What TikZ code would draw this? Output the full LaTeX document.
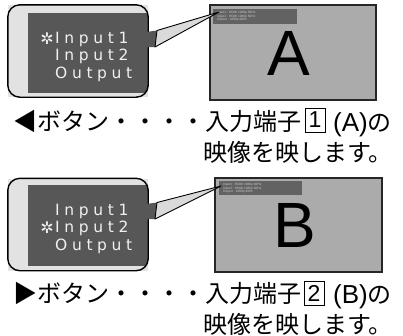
\documentclass[tikz,border=0pt]{standalone}
\usepackage{fontspec}
\setmainfont{Noto Sans CJK JP}
\newfontfamily\latinfont{Liberation Sans}
\newfontfamily\menufont[LetterSpace=30]{DejaVu Sans}
\newfontfamily\symfont{DejaVu Sans}
\usetikzlibrary{calc}

\definecolor{panelgray}{HTML}{E2E2E2}
\definecolor{menugray}{HTML}{575757}
\definecolor{screengray}{HTML}{ABABAB}
\definecolor{osdgray}{HTML}{626262}
\definecolor{wedgegray}{HTML}{DADADA}

\tikzset{
  menupanel/.style={fill=panelgray, inner sep=0, minimum width=140pt, minimum height=92pt},
  menuborder/.style={draw=black, line width=1.4pt, rounded corners=12pt},
  menuitem/.style={anchor=base west, inner sep=0, text=white!94!black,
    font=\menufont\fontsize{15.5}{18}\selectfont},
  menustar/.style={anchor=base east, inner sep=0, text=white!94!black,
    font=\symfont\fontsize{16}{18}\selectfont},
  wedge/.style={fill=wedgegray, draw=black, line width=0.9pt, line join=round},
  screen/.style={draw=black!85, line width=1.2pt, fill=screengray, inner sep=0},
  osd/.style={fill=osdgray, inner sep=0},
  osdtext/.style={anchor=north west, inner sep=0, text=white!78!black, align=left,
    font=\latinfont\fontsize{3.2}{3.7}\selectfont},
  bigletter/.style={inner sep=0, font=\latinfont\fontsize{64}{64}\selectfont},
  caption/.style={anchor=base west, inner sep=0, font=\fontsize{24}{28}\selectfont},
  numbox/.style={draw=black, line width=0.8pt, inner sep=0, minimum width=20pt,
    minimum height=24pt, font=\latinfont\fontsize{23}{24}\selectfont},
}

\begin{document}
\begin{tikzpicture}[x=1pt, y=-1pt]
  \useasboundingbox (0,0) rectangle (403,335);

  % Top panel: menu with Input1 selected
  \node[menupanel] (menuA) at (78,51) {};
  \begin{scope}
    \clip[rounded corners=12pt] (menuA.north west) rectangle (menuA.south east);
    \fill[menugray] (28,13) rectangle (148,93);
  \end{scope}
  \draw[menuborder] (menuA.north west) rectangle (menuA.south east);
  \node[menustar] (starA) at (54,44) {✲};
  \node[menuitem] (inAa) at (55,43.3) {Input1};
  \node[menuitem] (inAb) at (55,60.8) {Input2};
  \node[menuitem] (outA) at (55,78.3) {Output};

  % Top screen showing A
  \node[screen, minimum width=166pt, minimum height=95pt] (scrA) at (293,52.5) {};
  \node[osd, minimum width=84pt, minimum height=15pt] (osdA) at (255,16.5) {};
  \node[osdtext] (osdtxtA) at (217,11) {Input1 : HDMI 1080p 60Hz\\Input2 : HDMI 1080p 60Hz\\Output : 1080p 60Hz};
  \node[bigletter] (letA) at (289,53) {A};

  % Pointer from menu to screen
  \coordinate (tipA) at (219,12);
  \fill[menugray] (146,32) -- (157,30.5) -- (155,47) -- (146,47) -- cycle;
  \draw[wedge] (157,30.5) -- (tipA) -- (155,47) -- cycle;

  % Caption for the left button
  \node[caption] (capA) at (13,130.6) {◀ボタン・・・・入力端子};
  \node[numbox] (numA) at (315,120) {1};
  \node[caption] (srcA) at (333,131) {{\latinfont\fontsize{26}{28}\selectfont(A)}の};
  \node[caption] (capAb) at (203,161.6) {映像を映します。};

  % Bottom panel: menu with Input2 selected
  \node[menupanel] (menuB) at (78,224.5) {};
  \begin{scope}
    \clip[rounded corners=12pt] (menuB.north west) rectangle (menuB.south east);
    \fill[menugray] (28,185) rectangle (148,266);
  \end{scope}
  \draw[menuborder] (menuB.north west) rectangle (menuB.south east);
  \node[menuitem] (inBa) at (55,215) {Input1};
  \node[menustar] (starB) at (54,233.2) {✲};
  \node[menuitem] (inBb) at (55,232.5) {Input2};
  \node[menuitem] (outB) at (55,250) {Output};

  % Bottom screen showing B
  \node[screen, minimum width=167pt, minimum height=94pt] (scrB) at (298.5,225) {};
  \node[osd, minimum width=83pt, minimum height=14pt] (osdB) at (260.5,188) {};
  \node[osdtext] (osdtxtB) at (223,183) {Input1 : HDMI 1080p 60Hz\\Input2 : HDMI 1080p 60Hz\\Output : 1080p 60Hz};
  \node[bigletter] (letB) at (295,225) {B};

  % Pointer from menu to screen
  \coordinate (tipB) at (221,186);
  \fill[menugray] (146,204) -- (157,202.5) -- (155,219) -- (146,219) -- cycle;
  \draw[wedge] (157,202.5) -- (tipB) -- (155,219) -- cycle;

  % Caption for the right button
  \node[caption] (capB) at (13,302.2) {▶ボタン・・・・入力端子};
  \node[numbox] (numB) at (314,293) {2};
  \node[caption] (srcB) at (333,303) {{\latinfont\fontsize{26}{28}\selectfont(B)}の};
  \node[caption] (capBb) at (203,333) {映像を映します。};

\end{tikzpicture}
\end{document}
